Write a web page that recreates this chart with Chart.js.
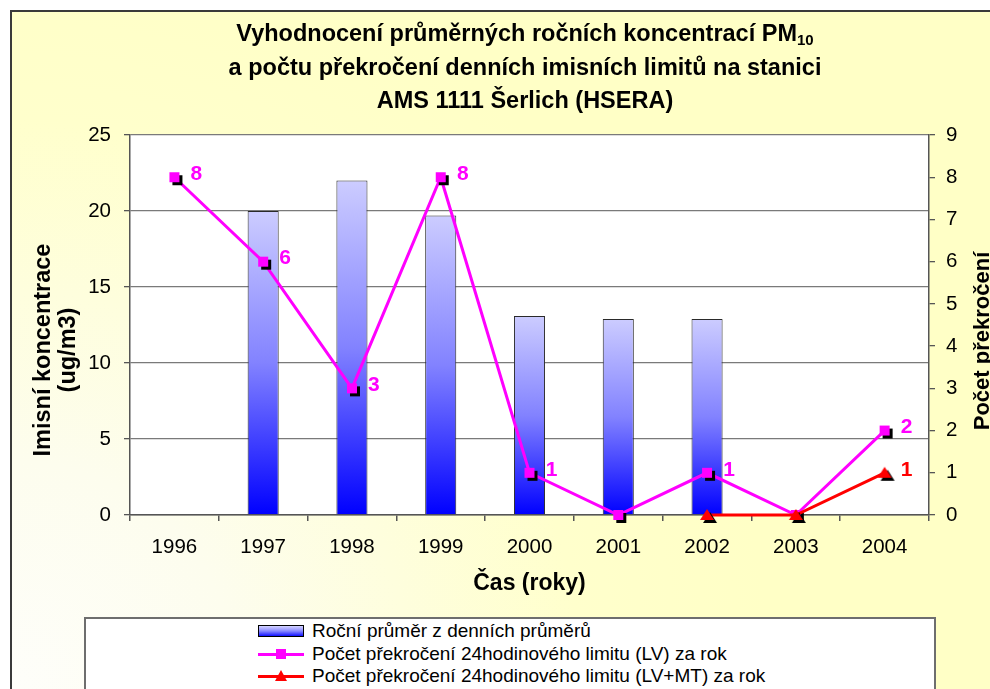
<!DOCTYPE html>
<html>
<head>
<meta charset="utf-8">
<script src="https://cdn.jsdelivr.net/npm/chart.js@4/dist/chart.umd.min.js"></script>
<style>
html,body{margin:0;padding:0;background:#fff;}
#wrap{position:relative;width:990px;height:689px;overflow:hidden;}
#c{position:absolute;left:0;top:0;}
#legend{position:absolute;left:84px;top:617px;width:852px;height:100px;background:#fff;border:2px solid #6e6e6e;box-sizing:border-box;font-family:"Liberation Sans",Arial,sans-serif;font-size:19px;color:#000;}
.item{position:absolute;left:172px;height:22px;display:flex;align-items:center;white-space:nowrap;}
.sw{position:relative;width:46px;height:22px;margin-right:8px;flex:none;}
.bar{position:absolute;left:0;top:5px;width:44px;height:10px;border:1px solid #000;background:linear-gradient(#d4d4ff,#8a8aff 50%,#1010ff);}
.ln{position:absolute;left:0;top:10px;width:46px;height:3px;}
.sq{position:absolute;left:18px;top:6px;width:10px;height:10px;}
.tri{position:absolute;left:17px;top:5px;width:0;height:0;border-left:6px solid transparent;border-right:6px solid transparent;border-bottom:11px solid #f00;}
</style>
</head>
<body>
<div id="wrap">
<canvas id="c" width="990" height="689"></canvas>
<div id="legend"></div>
</div>
<script>
// ---------- data ----------
const years = ['1996', '1997', '1998', '1999', '2000', '2001', '2002', '2003', '2004'];
const annualMean = [null, 20, 22, 19.7, 13.1, 12.9, 12.9, null, null];
const exceedLV = [8, 6, 3, 8, 1, 0, 1, 0, 2];
const exceedLVMT = [null, null, null, null, null, null, 0, 0, 1];
const seriesNames = [
  'Roční průměr z denních průměrů',
  'Počet překročení 24hodinového limitu (LV) za rok',
  'Počet překročení 24hodinového limitu (LV+MT) za rok'
];
const titleLines = ['Vyhodnocení průměrných ročních koncentrací PM', 'a počtu překročení denních imisních limitů na stanici', 'AMS 1111 Šerlich (HSERA)'];
const titleSub = '10';
const leftTitle = ['Imisní koncentrace', '(ug/m3)'];
const rightTitle = 'Počet překročení';
const xTitle = 'Čas (roky)';
const leftTicks = [0, 5, 10, 15, 20, 25];
const rightTicks = [0, 1, 2, 3, 4, 5, 6, 7, 8, 9];

const FONT = '"Liberation Sans", Arial, sans-serif';
const PINK = '#ff00ff', RED = '#ff0000';

function makeMarker(color, shape) {
  const c = document.createElement('canvas');
  c.width = 28; c.height = 28;
  const g = c.getContext('2d');
  const draw = (o, col) => {
    g.fillStyle = col; g.beginPath();
    if (shape === 'square') g.rect(9 + o, 9 + o, 10, 10);
    else { g.moveTo(14 + o, 8 + o); g.lineTo(21 + o, 19 + o); g.lineTo(7 + o, 19 + o); g.closePath(); }
    g.fill();
  };
  draw(3, '#000'); draw(0, color);
  return c;
}
const sqMarker = makeMarker(PINK, 'square');
const triMarker = makeMarker(RED, 'triangle');

const bgPlugin = {
  id: 'bg',
  beforeDraw(chart) {
    const {ctx, chartArea: a} = chart;
    ctx.save();
    ctx.fillStyle = '#fff';
    ctx.fillRect(0, 0, chart.width, chart.height);
    const g = ctx.createRadialGradient(11, 689, 0, 11, 689, 760);
    g.addColorStop(0, '#fefefa');
    g.addColorStop(0.3, '#fdfdee');
    g.addColorStop(0.75, '#ffffcc');
    g.addColorStop(1, '#ffffc6');
    ctx.fillStyle = g;
    ctx.fillRect(11, 11, chart.width - 11, chart.height - 11);
    ctx.strokeStyle = '#3a3a3a';
    ctx.lineWidth = 2;
    ctx.beginPath();
    ctx.moveTo(11, chart.height); ctx.lineTo(11, 11); ctx.lineTo(chart.width, 11);
    ctx.stroke();
    ctx.fillStyle = '#fff';
    ctx.fillRect(a.left, a.top, a.right - a.left, a.bottom - a.top);
    ctx.restore();
  }
};

const textPlugin = {
  id: 'texts',
  afterDraw(chart) {
    const ctx = chart.ctx;
    ctx.save();
    ctx.fillStyle = '#000';
    // main title
    const cx = 525;
    const base = [41, 74.5, 108];
    const TF = 'bold 23.5px ' + FONT, SF = 'bold 15px ' + FONT;
    ctx.font = TF;
    ctx.textBaseline = 'alphabetic';
    const w1 = ctx.measureText(titleLines[0]).width;
    ctx.font = SF;
    const ws = ctx.measureText(titleSub).width;
    const start = cx - (w1 + ws) / 2;
    ctx.font = TF;
    ctx.textAlign = 'left';
    ctx.fillText(titleLines[0], start, base[0]);
    ctx.font = SF;
    ctx.fillText(titleSub, start + w1, base[0] + 4);
    ctx.font = TF;
    ctx.textAlign = 'center';
    ctx.fillText(titleLines[1], cx, base[1]);
    ctx.fillText(titleLines[2], cx, base[2]);
    // left axis title (rotated)
    ctx.font = 'bold 23.5px ' + FONT;
    const lx = [50, 75];
    leftTitle.forEach((t, i) => {
      ctx.save();
      ctx.translate(lx[i], 350);
      ctx.rotate(-Math.PI / 2);
      ctx.fillText(t, 0, 0);
      ctx.restore();
    });
    // right axis title
    ctx.font = 'bold 22px ' + FONT;
    ctx.save();
    ctx.translate(989, 341);
    ctx.rotate(-Math.PI / 2);
    ctx.fillText(rightTitle, 0, 0);
    ctx.restore();
    ctx.restore();
  },
  afterDatasetsDraw(chart) {
    const ctx = chart.ctx;
    ctx.save();
    ctx.font = 'bold 21px ' + FONT;
    ctx.textAlign = 'center';
    ctx.textBaseline = 'middle';
    chart.data.datasets.forEach((ds, di) => {
      if (!ds.labelColor) return;
      const meta = chart.getDatasetMeta(di);
      meta.data.forEach((pt, i) => {
        const v = ds.data[i];
        if (v == null || v === 0) return;
        ctx.fillStyle = ds.labelColor;
        ctx.fillText(String(v), pt.x + 22, pt.y - 3);
      });
    });
    ctx.restore();
  }
};

function barGradient(context) {
  const chart = context.chart;
  const v = context.raw;
  if (!chart.chartArea || context.type !== 'data' || v == null) return '#9999ff';
  const ys = chart.scales.y;
  const top = ys.getPixelForValue(v), bot = ys.getPixelForValue(0);
  const g = chart.ctx.createLinearGradient(0, top, 0, bot);
  g.addColorStop(0, '#ccccff');
  g.addColorStop(0.5, '#8282ff');
  g.addColorStop(1, '#0000ff');
  return g;
}

new Chart(document.getElementById('c'), {
  data: {
    labels: years,
    datasets: [
      {
        type: 'bar', label: seriesNames[0], data: annualMean, yAxisID: 'y', order: 3,
        backgroundColor: barGradient, borderColor: '#2a2a2a', borderWidth: 1,
        barPercentage: 0.35, categoryPercentage: 1
      },
      {
        type: 'line', label: seriesNames[1], data: exceedLV, yAxisID: 'y1', order: 2,
        borderColor: PINK, borderWidth: 3, pointStyle: sqMarker, pointRadius: 6,
        fill: false, tension: 0, clip: false, labelColor: PINK
      },
      {
        type: 'line', label: seriesNames[2], data: exceedLVMT, yAxisID: 'y1', order: 1,
        borderColor: RED, borderWidth: 3, pointStyle: triMarker, pointRadius: 6,
        fill: false, tension: 0, clip: false, spanGaps: false, labelColor: RED
      }
    ]
  },
  options: {
    responsive: false,
    animation: false,
    events: [],
    layout: {padding: {left: 11, top: 135, right: 0, bottom: 80}},
    plugins: {legend: {display: false}, title: {display: false}, tooltip: {enabled: false}},
    scales: {
      x: {
        grid: {display: true, drawOnChartArea: false, drawTicks: true, tickLength: 6, offset: true, color: '#555', lineWidth: 1.5},
        border: {display: true, color: '#555', width: 1.5},
        ticks: {color: '#000', font: {family: FONT, size: 20.5}, padding: 14, maxRotation: 0},
        title: {display: true, text: xTitle, color: '#000', font: {family: FONT, size: 23, weight: 'bold'}, padding: {top: 0, bottom: 12}},
        afterFit(s) { s.height = 94; }
      },
      y: {
        position: 'left', min: 0, max: 25,
        afterBuildTicks(s) { s.ticks = leftTicks.map(v => ({value: v})); },
        grid: {color: '#7a7a7a', lineWidth: 1.3, tickLength: 6, tickColor: '#555'},
        border: {display: true, color: '#555', width: 1.5},
        ticks: {color: '#000', font: {family: FONT, size: 20.5}, padding: 13},
        afterFit(s) { s.width = 119; }
      },
      y1: {
        position: 'right', min: 0, max: 9,
        afterBuildTicks(s) { s.ticks = rightTicks.map(v => ({value: v})); },
        grid: {drawOnChartArea: false, tickLength: 6, color: '#555', lineWidth: 1.3},
        border: {display: true, color: '#555', width: 1.5},
        ticks: {color: '#000', font: {family: FONT, size: 20.5}, padding: 11},
        afterFit(s) { s.width = 61; }
      }
    }
  },
  plugins: [bgPlugin, textPlugin]
});

// ---------- HTML legend ----------
const legend = document.getElementById('legend');
const kinds = [
  '<div class="bar"></div>',
  '<div class="ln" style="background:' + PINK + '"></div><div class="sq" style="background:' + PINK + '"></div>',
  '<div class="ln" style="background:' + RED + '"></div><div class="tri"></div>'
];
const rowTops = [1, 24, 46];
seriesNames.forEach((name, i) => {
  const it = document.createElement('div');
  it.className = 'item';
  it.style.top = rowTops[i] + 'px';
  const sw = document.createElement('div');
  sw.className = 'sw';
  sw.innerHTML = kinds[i];
  const tx = document.createElement('span');
  tx.textContent = name;
  it.appendChild(sw);
  it.appendChild(tx);
  legend.appendChild(it);
});
</script>
</body>
</html>
